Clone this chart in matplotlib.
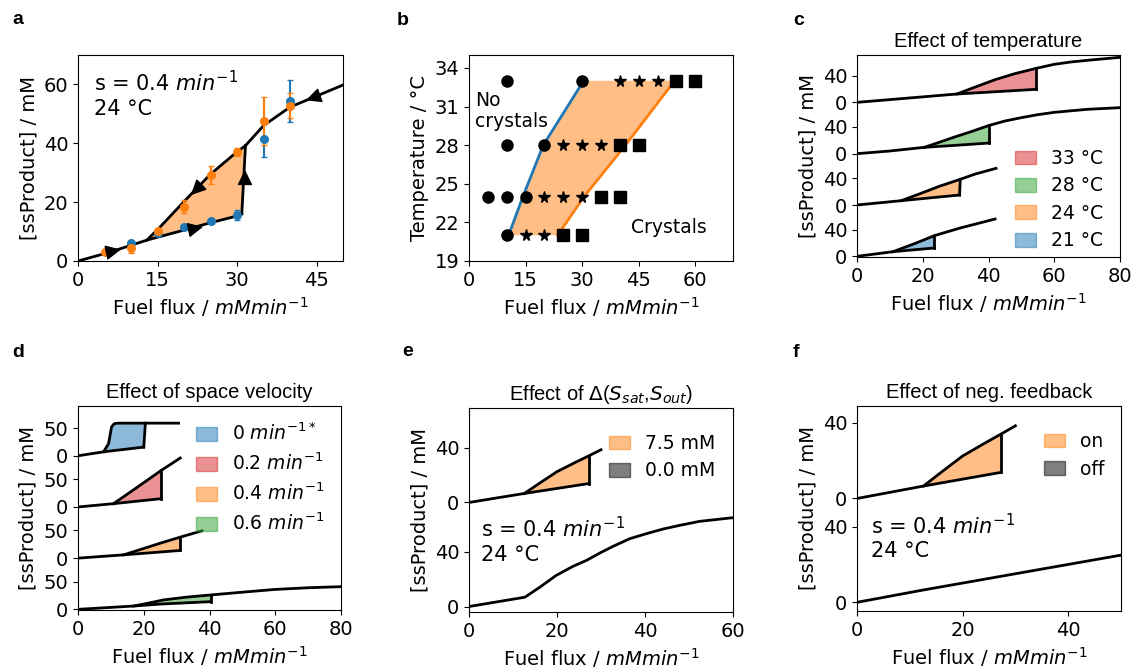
import matplotlib.pyplot as plt
import numpy as np
from matplotlib.patches import Patch

plt.rcParams['font.size'] = 14
plt.rcParams['legend.fontsize'] = 13.5
W, H = 1133, 671
fig = plt.figure(figsize=(W / 100, H / 100), dpi=100)

FLUX = 'Fuel flux / $mMmin^{-1}$'
SSP = '[ssProduct] / mM'
COND = 's = 0.4 $min^{-1}$\n24 °C'
TITLE_FONT = dict(family='Liberation Sans', fontsize=14.5)

# ---- panel a: hysteresis at 24 C, s = 0.4
a_lower_x = [0, 6, 13, 20, 25, 30, 30.9]
a_lower_y = [0, 3.0, 7.1, 10.5, 13.0, 15.3, 16.0]
a_upper_x = [13, 15.3, 20, 25, 30, 31.6, 35, 40, 44, 50]
a_upper_y = [7.1, 11.2, 20.2, 29.5, 37.1, 39.2, 46.0, 52.3, 55.3, 59.8]
blue_x = [10, 15, 20, 25, 30, 35, 40]
blue_y = [6.0, 9.4, 11.7, 13.6, 15.6, 41.4, 54.4]
blue_err = [0.6, 0.6, 0.6, 0.6, 1.7, 6.2, 7.2]
orange_x = [5, 10, 15, 20, 25, 30, 35, 40]
orange_y = [3.2, 4.3, 10.2, 18.5, 29.2, 37.1, 47.6, 52.8]
orange_err = [0.4, 1.5, 0.6, 2.3, 3.0, 1.3, 8.2, 4.3]
# direction arrows: tail -> tip
arrow_from = [(5.5, 2.9), (21.0, 10.6), (31.5, 26.5), (45.5, 56.2), (23.2, 25.8)]
arrow_to = [(8.1, 3.9), (23.6, 11.6), (31.5, 31.0), (43.0, 54.6), (21.3, 22.4)]

# ---- panel b: phase diagram
circ_flux = [10, 30, 10, 20, 5, 10, 15, 10]
circ_temp = [33, 33, 28, 28, 24, 24, 24, 21]
star_flux = [40, 45, 50, 25, 30, 35, 20, 25, 30, 15, 20]
star_temp = [33, 33, 33, 28, 28, 28, 24, 24, 24, 21, 21]
sq_flux = [55, 60, 40, 45, 35, 40, 25, 30]
sq_temp = [33, 33, 28, 28, 24, 24, 21, 21]
bnd_low_flux = [10.5, 14.3, 19.7, 30.4]
bnd_high_flux = [23.5, 30.5, 41.5, 54.5]
bnd_temp = [21, 24, 28, 33]

# ---- panel c: temperature
c21_lx, c21_ly = [0, 11, 23.5], [0, 7, 12.5]
c21_ux, c21_uy = [11, 18, 23.5, 31.4, 42], [7, 20, 31, 42.5, 56]
c24_lx, c24_ly = [0, 13.5, 31.2], [0, 6.5, 15]
c24_ux, c24_uy = [13.5, 20, 25, 31.4, 36, 42.3], [6.5, 18.5, 28, 38.5, 46.5, 55]
c28_lx, c28_ly = [0, 10, 20.5, 30, 40.3], [0, 4, 9.5, 12.5, 16]
c28_ux = [20.5, 25, 30, 35, 40.3, 45, 50, 55, 60, 70, 80]
c28_uy = [9.5, 17, 25.5, 33.5, 42.5, 49, 54, 58.5, 62, 66.5, 69]
c33_lx, c33_ly = [0, 11, 30.4, 54.5], [0, 4.5, 12.5, 19.5]
c33_ux = [30.4, 36, 42, 48, 54.5, 60, 65, 70, 80]
c33_uy = [12.5, 23, 34, 43, 51, 57, 60.5, 63, 67.5]
c_labels = ['33 °C', '28 °C', '24 °C', '21 °C']

# ---- panel d: space velocity
d0_lx, d0_ly = [0, 7.8, 20], [0, 7.2, 15.7]
d0_ux = [7.8, 9.3, 10.2, 11, 12, 20.5, 30.6]
d0_uy = [7.2, 22, 52, 58, 59, 59, 59]
d2_lx, d2_ly = [0, 10.8, 25.3], [0, 6, 15]
d2_ux, d2_uy = [10.8, 16.9, 25.3, 31.1], [6, 31, 66, 88.5]
d4_lx, d4_ly = [0, 13.9, 31.1], [0, 6, 13.9]
d4_ux, d4_uy = [13.9, 20, 25, 31.1, 37.7], [6, 17.5, 27, 38, 49.4]
d6_lx, d6_ly = [0, 10, 17, 25, 40.4], [0, 3.5, 6, 9.5, 13.9]
d6_ux = [17, 22, 26, 33, 40.4, 50, 60, 70, 80]
d6_uy = [6, 12, 17, 22, 26, 31, 36, 39, 41]
d_labels = ['0 $min^{-1*}$', '0.2 $min^{-1}$', '0.4 $min^{-1}$', '0.6 $min^{-1}$']

# ---- panels e, f
ef_lx, ef_ly = [0, 12.6, 27.2], [0, 6.6, 13.8]
ef_ux, ef_uy = [12.6, 16, 20, 24, 27.2, 30], [6.6, 14, 22.5, 29, 34, 38.5]
e0_x = [0, 12.7, 16.1, 19.8, 23.6, 26.7, 29.7, 32.7, 36.5, 40.3, 44.1, 47.9, 52.4, 60]
e0_y = [0, 6.8, 14.1, 22.7, 29.3, 33.7, 39.0, 43.9, 49.5, 53.2, 56.6, 59.3, 62.2, 64.9]
f_off_x = [0, 12.5, 50]
f_off_y = [0, 6.5, 25]


def px_axes(l, t, r, b):
    return fig.add_axes([l / W, 1 - b / H, (r - l) / W, (b - t) / H])


def loop(ax, lx, ly, ux, uy, off, color):
    lx, ly, ux, uy = map(np.asarray, (lx, ly, ux, uy))
    j = np.argmin(abs(ux - lx[-1]))
    keep = lx >= ux[0]
    px = np.r_[lx[keep], ux[:j + 1][::-1]]
    py = np.r_[ly[keep], uy[:j + 1][::-1]] + off
    ax.fill(px, py, color=color, alpha=0.5, lw=0)
    ax.plot(lx, ly + off, 'k', lw=2)
    ax.plot(ux, uy + off, 'k', lw=2)
    ax.plot([lx[-1], ux[j]], [ly[-1] + off, uy[j] + off], 'k', lw=2)


def stack_ticks(ax, offs, step):
    ticks, labels = [], []
    for o in offs:
        ticks += [o, o + step]
        labels += ['0', str(step)]
    ax.set_yticks(ticks)
    ax.set_yticklabels(labels)


def patch_legend(ax, colors, labels, loc, anchor):
    ax.legend(handles=[Patch(color=c, alpha=0.5, label=l) for c, l in zip(colors, labels)],
              loc=loc, bbox_to_anchor=anchor, frameon=False, handlelength=1.1,
              handleheight=0.75, labelspacing=0.45)


# a
ax = px_axes(78, 55, 343, 261)
loop(ax, a_lower_x, a_lower_y, a_upper_x, a_upper_y, 0, 'C1')
ax.errorbar(blue_x, blue_y, yerr=blue_err, fmt='o', color='C0', ms=5.5,
            capsize=2, elinewidth=1.5, zorder=3)
ax.errorbar(orange_x, orange_y, yerr=orange_err, fmt='o', color='C1', ms=5.5,
            capsize=2, elinewidth=1.5, zorder=3)
for p0, p1 in zip(arrow_from, arrow_to):
    ax.annotate('', xy=p1, xytext=p0, zorder=4,
                arrowprops=dict(arrowstyle='-|>,head_length=0.45,head_width=0.22',
                                mutation_scale=21, color='k', lw=1,
                                shrinkA=0, shrinkB=0))
ax.set_xlim(0, 50)
ax.set_ylim(0, 70)
ax.set_xticks([0, 15, 30, 45])
ax.set_yticks([0, 20, 40, 60])
ax.set_xlabel(FLUX)
ax.set_ylabel(SSP)
ax.text(0.06, 0.925, COND, transform=ax.transAxes, va='top', fontsize=15)

# b
ax = px_axes(469, 55, 733, 261)
ax.fill(np.r_[bnd_low_flux, bnd_high_flux[::-1]], np.r_[bnd_temp, bnd_temp[::-1]],
        color='C1', alpha=0.5, lw=0)
ax.plot(bnd_low_flux, bnd_temp, color='C0', lw=2)
ax.plot(bnd_high_flux, bnd_temp, color='C1', lw=2)
ax.plot(circ_flux, circ_temp, 'ko', ms=8, ls='none')
ax.plot(star_flux, star_temp, 'k*', ms=8.5, ls='none')
ax.plot(sq_flux, sq_temp, 'ks', ms=8, ls='none')
ax.text(1.5, 32.2, 'No\ncrystals', va='top', fontsize=13.5, linespacing=1.1)
ax.text(43, 21.2, 'Crystals', va='baseline', fontsize=13.5)
ax.set_xlim(0, 70)
ax.set_ylim(19, 35)
ax.set_xticks([0, 15, 30, 45, 60])
ax.set_yticks([19, 22, 25, 28, 31, 34])
ax.set_xlabel(FLUX)
ax.set_ylabel('Temperature / °C')

# c
ax = px_axes(857, 55, 1120, 257)
c_off = [0, 77, 154, 231]
loop(ax, c21_lx, c21_ly, c21_ux, c21_uy, c_off[0], 'C0')
loop(ax, c24_lx, c24_ly, c24_ux, c24_uy, c_off[1], 'C1')
loop(ax, c28_lx, c28_ly, c28_ux, c28_uy, c_off[2], 'C2')
loop(ax, c33_lx, c33_ly, c33_ux, c33_uy, c_off[3], 'C3')
stack_ticks(ax, c_off, 40)
ax.set_xlim(0, 80)
ax.set_ylim(-1, 302)
ax.set_xticks([0, 20, 40, 60, 80])
ax.set_xlabel(FLUX)
ax.set_ylabel(SSP)
ax.set_title('Effect of temperature', **TITLE_FONT)
patch_legend(ax, ['C3', 'C2', 'C1', 'C0'], c_labels, 'lower right', (1.0, -0.05))

# d
ax = px_axes(78, 406, 341, 610)
d_off = [0, 92.5, 185, 277.5]
loop(ax, d6_lx, d6_ly, d6_ux, d6_uy, d_off[0], 'C2')
loop(ax, d4_lx, d4_ly, d4_ux, d4_uy, d_off[1], 'C1')
loop(ax, d2_lx, d2_ly, d2_ux, d2_uy, d_off[2], 'C3')
loop(ax, d0_lx, d0_ly, d0_ux, d0_uy, d_off[3], 'C0')
stack_ticks(ax, d_off, 50)
ax.set_xlim(0, 80)
ax.set_ylim(-1.2, 367.5)
ax.set_xticks([0, 20, 40, 60, 80])
ax.set_xlabel(FLUX)
ax.set_ylabel(SSP)
ax.set_title('Effect of space velocity', **TITLE_FONT)
patch_legend(ax, ['C0', 'C3', 'C1', 'C2'], d_labels, 'upper right', (1.0, 1.0))

# e
ax = px_axes(469, 408, 733, 612)
e_off = [0, 76]
ax.plot(e0_x, e0_y, 'k', lw=2)
loop(ax, ef_lx, ef_ly, ef_ux, ef_uy, e_off[1], 'C1')
stack_ticks(ax, e_off, 40)
ax.set_xlim(0, 60)
ax.set_ylim(-4, 145)
ax.set_xticks([0, 20, 40, 60])
ax.set_xlabel(FLUX)
ax.set_ylabel(SSP)
ax.set_title(r'Effect of $\Delta$($S_{sat}$,$S_{out}$)', **TITLE_FONT)
ax.text(0.047, 0.47, COND, transform=ax.transAxes, va='top', fontsize=15)
patch_legend(ax, ['C1', 'k'], ['7.5 mM', '0.0 mM'], 'upper right', (0.995, 0.955))

# f
ax = px_axes(857, 406, 1121, 611)
f_off = [0, 55]
ax.plot(f_off_x, f_off_y, 'k', lw=2)
loop(ax, ef_lx, ef_ly, ef_ux, ef_uy, f_off[1], 'C1')
stack_ticks(ax, f_off, 40)
ax.set_xlim(0, 50)
ax.set_ylim(-4.6, 104)
ax.set_xticks([0, 20, 40])
ax.set_xlabel(FLUX)
ax.set_ylabel(SSP)
ax.set_title('Effect of neg. feedback', **TITLE_FONT)
ax.text(0.054, 0.48, COND, transform=ax.transAxes, va='top', fontsize=15)
patch_legend(ax, ['C1', 'k'], ['on', 'off'], 'upper right', (1.0, 0.955))

for lab, x, y in [('a', 12, 24), ('b', 397, 25), ('c', 793, 25),
                  ('d', 12, 357), ('e', 402, 356), ('f', 793, 357)]:
    fig.text(x / W, 1 - y / H, lab, fontsize=14, fontweight='bold',
             family='Liberation Sans', va='baseline')

fig.savefig('out.png', dpi=100)
